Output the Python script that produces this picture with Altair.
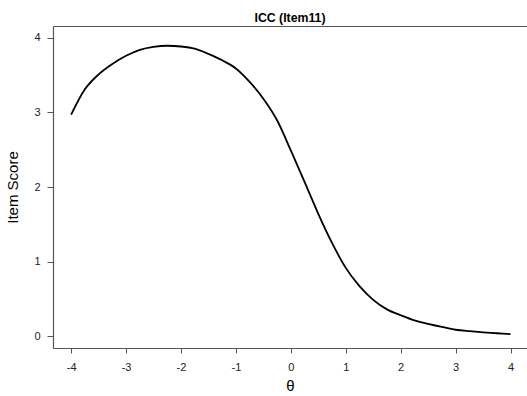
import altair as alt
import pandas as pd

theta = [-4.0, -3.75, -3.5, -3.25, -3.0, -2.75, -2.5, -2.25, -2.0, -1.75, -1.5,
         -1.25, -1.0, -0.75, -0.5, -0.25, 0.0, 0.25, 0.5, 0.75, 1.0, 1.25, 1.5,
         1.75, 2.0, 2.25, 2.5, 2.75, 3.0, 3.25, 3.5, 3.75, 4.0]
score = [2.97, 3.31, 3.51, 3.65, 3.76, 3.84, 3.88, 3.895, 3.885, 3.855, 3.785,
         3.70, 3.59, 3.41, 3.185, 2.895, 2.49, 2.07, 1.64, 1.25, 0.915, 0.67, 0.486,
         0.358, 0.279, 0.21, 0.164, 0.123, 0.085, 0.065, 0.05, 0.038, 0.025]
x_ticks = [-4, -3, -2, -1, 0, 1, 2, 3, 4]
y_ticks = [0, 1, 2, 3, 4]

df = pd.DataFrame({"theta": theta, "score": score})

FONT = "Liberation Sans"
FRAME = "#555555"

xscale = alt.Scale(domain=[-4.33, 4.30], nice=False, zero=False)
yscale = alt.Scale(domain=[-0.16, 4.16], nice=False, zero=False)

y_axis = alt.Axis(values=y_ticks, title="Item Score", grid=False,
                  domain=True, domainColor=FRAME, domainWidth=1.2,
                  tickColor=FRAME, tickSize=6, tickWidth=1,
                  labelFont=FONT, labelFontSize=11, labelColor="#222222",
                  labelPadding=7, titleFont=FONT, titleFontSize=15,
                  titleFontWeight="normal", titleColor="black",
                  titlePadding=13, labelFlush=False,
                  labelExpr="toString(datum.value)")

line = alt.Chart(df).mark_line(color="black", strokeWidth=1.8,
                               interpolate="monotone").encode(
    x=alt.X("theta:Q", scale=xscale,
            axis=alt.Axis(values=x_ticks, title="θ", grid=False,
                          domain=True, domainColor=FRAME, domainWidth=1.2,
                          tickColor=FRAME, tickSize=5, tickWidth=1,
                          labelFont=FONT, labelFontSize=11, labelColor="#222222",
                          labelPadding=8, titleFont=FONT, titleFontSize=15,
                          titleFontWeight="normal", titleColor="black",
                          titlePadding=6, labelFlush=False,
                          labelExpr="toString(datum.value)")),
    y=alt.Y("score:Q", scale=yscale, axis=y_axis),
)

top = alt.Chart(df).mark_line(opacity=0).encode(
    x=alt.X("theta:Q", scale=xscale,
            axis=alt.Axis(orient="top", labels=False, ticks=False, title=None,
                          grid=False, domain=True, domainColor=FRAME,
                          domainWidth=1.2)),
    y=alt.Y("score:Q", scale=yscale, axis=y_axis),
)

chart = alt.layer(line, top).resolve_axis(x="independent").properties(
    width=474, height=322,
    title=alt.TitleParams("ICC (Item11)", font=FONT, fontSize=12.3,
                          fontWeight="bold", color="black", anchor="middle",
                          offset=-8, baseline="alphabetic"),
    autosize=alt.AutoSizeParams(type="none"),
    padding={"left": 53, "top": 26, "right": 0, "bottom": 48},
).configure_view(stroke=None).configure(background="white")

chart.save("out.html", embed_options={"renderer": "svg", "actions": False})
